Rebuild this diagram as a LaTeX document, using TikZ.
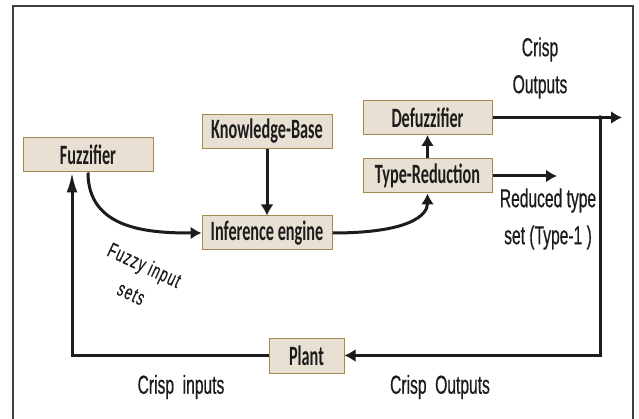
\documentclass[tikz,border=0pt]{standalone}
\usepackage{fontspec}
\setmainfont{Carlito}
\newfontfamily\boxfont[FakeStretch=0.58,UprightFont=* Bold]{Carlito}
\newfontfamily\notefont[FakeStretch=0.6,FakeBold=0.6]{Liberation Sans}
\newfontfamily\slantfont[FakeStretch=0.62,FakeBold=0.4,LetterSpace=6]{Liberation Sans}
\usetikzlibrary{shapes,arrows,arrows.meta}
\definecolor{boxfill}{RGB}{232,224,211}
\definecolor{boxline}{RGB}{165,135,80}
\definecolor{ink}{RGB}{28,28,28}
\tikzstyle{block} = [rectangle, draw=boxline, fill=boxfill, line width=1pt,
    inner sep=0pt, minimum width=130pt, minimum height=34pt,
    font=\boxfont\fontsize{28}{30}\selectfont, text=ink]
\tikzstyle{note} = [font=\notefont\fontsize{26}{37}\selectfont, text=ink,
    align=center, inner sep=0pt]
\tikzstyle{line} = [draw=ink, line width=3pt, -{Latex[length=11pt,width=13pt]}]

\begin{document}
\begin{tikzpicture}
[x=1pt, y=-1pt]
    \useasboundingbox (0,0) rectangle (639,419);
    % Frame
    \draw [draw=ink!85, line width=1.6pt] (13,419) -- (13,6) -- (633,6) -- (633,419);

    % Place nodes
    \node [block] (fuzz) at (88,155) {Fuzzifier};
    \node [block] (kb) at (267,131.5) {Knowledge-Base};
    \node [block] (inf) at (267,233) {Inference engine};
    \node [block, minimum width=129pt] (defuzz) at (427.5,117.5) {Defuzzifier};
    \node [block, minimum width=129pt] (tr) at (427.5,176) {Type-Reduction};
    \node [block, minimum width=75pt, minimum height=35pt] (plant) at (306.5,355.5) {Plant};

    \coordinate (tap) at (600,117.5);
    \coordinate (out) at (622,117.5);
    \coordinate (redout) at (557,176);

    % Draw edges
    \path [line] (kb) -- (inf);
    \path [line] (fuzz.south) .. controls (88,230) and (150,233) .. (inf.west);
    \path [line] (inf.east) .. controls (410,233) and (427.5,215) .. (tr.south);
    \path [line] (tr) -- (defuzz);
    \path [line] (tr) -- (redout);
    \path [line] (defuzz) -- (out);
    \fill [ink] (tap) circle (2.2pt);
    \path [line] (tap) |- (plant);
    \path [line, -{Latex[length=20pt,width=11pt]}] (plant) -| ([xshift=-16pt]fuzz.south);

    % Labels
    \node [note] (crispout) at (540,68) {Crisp\\Outputs};
    \node [note] (reduced) at (548,219) {Reduced type\\set (Type-1 )};
    \node [note] (crispin) at (181,387) {Crisp\ \ inputs};
    \node [note] (crispfb) at (440,387) {Crisp\ \ Outputs};
    \node [note, font=\slantfont\fontsize{21}{31}\selectfont, rotate=-25] (fuzzyin) at (138,279) {Fuzzy input\\sets};

\end{tikzpicture}
\end{document}
